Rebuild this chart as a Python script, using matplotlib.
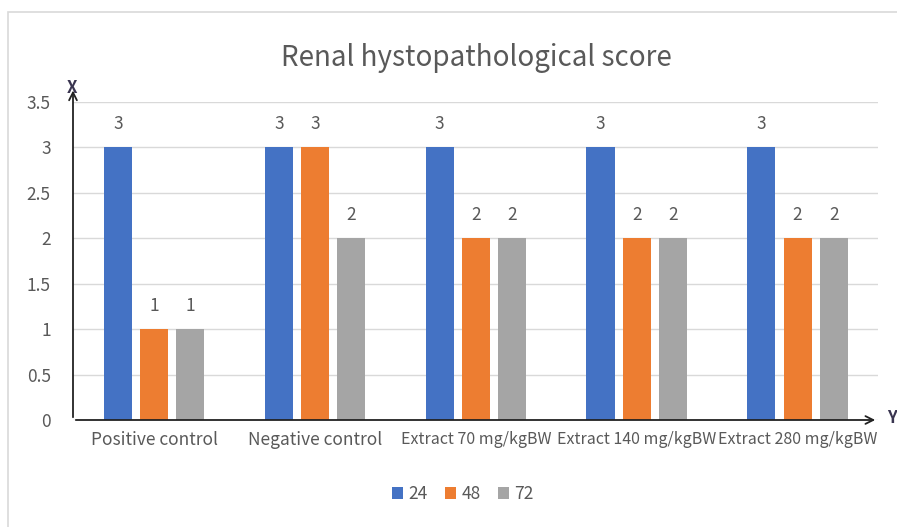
import numpy as np
import matplotlib.pyplot as plt
from matplotlib.patches import Rectangle

# data
groups = ["Positive control", "Negative control", "Extract 70 mg/kgBW",
          "Extract 140 mg/kgBW", "Extract 280 mg/kgBW"]
series_names = ["24", "48", "72"]
score_24 = [3, 3, 3, 3, 3]
score_48 = [1, 3, 2, 2, 2]
score_72 = [1, 2, 2, 2, 2]
colors = ["#4472c4", "#ed7d31", "#a5a5a5"]

plt.rcParams['font.family'] = ['Noto Sans CJK KR', 'DejaVu Sans']

W, H = 897, 527
fig = plt.figure(figsize=(W / 100, H / 100), dpi=100)

# outer chart border (cut off at right/bottom)
fig.patches.append(Rectangle((8 / W, -0.2), 1.2, 1 - 12 / H + 0.2,
                             transform=fig.transFigure, fill=False,
                             edgecolor="#d9d9d9", linewidth=1.2))

ax = fig.add_axes([73 / W, 1 - 420 / H, (878 - 73) / W, (420 - 102) / H])
x = np.arange(len(groups))
step = 0.225
width = 0.175
all_series = [score_24, score_48, score_72]
for i, (vals, name, c) in enumerate(zip(all_series, series_names, colors)):
    bars = ax.bar(x + (i - 1) * step, vals, width, color=c, label=name, zorder=3)
    for b, v in zip(bars, vals):
        ax.text(b.get_x() + b.get_width() / 2, v + 0.16, str(v), ha="center",
                va="bottom", fontsize=12.5, color="#595959")

ax.set_xlim(-0.505, 4.5)
ax.set_ylim(0, 3.5)
ax.set_yticks(np.arange(0, 3.51, 0.5))
ax.set_yticklabels(["0", "0.5", "1", "1.5", "2", "2.5", "3", "3.5"])
ax.yaxis.grid(True, color="#d9d9d9", linewidth=1, zorder=0)
ax.set_xticks(x)
ax.set_xticklabels(groups)
ax.tick_params(axis="both", length=0, colors="#595959", labelsize=12.5)
ax.tick_params(axis="x", pad=8)
ax.tick_params(axis="y", pad=16)
# the long extract labels are a bit smaller so they fit
for lab, fs in zip(ax.get_xticklabels(), [12.5, 12.5, 11.5, 11.5, 11.5]):
    lab.set_fontsize(fs)
for s in ax.spines.values():
    s.set_visible(False)

# axis arrows
ax.annotate("", xy=(0, 1.045), xytext=(0, 0), xycoords="axes fraction",
            arrowprops=dict(arrowstyle="->", color="#222222", lw=1.3,
                            mutation_scale=14), annotation_clip=False)
ax.annotate("", xy=(1.0, 0), xytext=(0, 0), xycoords="axes fraction",
            arrowprops=dict(arrowstyle="->", color="#222222", lw=1.3,
                            mutation_scale=14), annotation_clip=False)
fig.text(72 / W, 1 - 88 / H, "X", ha="center", va="center", fontsize=12,
         color="#3a3550", fontweight="bold")
fig.text(892 / W, 1 - 418 / H, "Y", ha="center", va="center", fontsize=12,
         color="#3a3550", fontweight="bold")

fig.text(476 / W, 1 - 58 / H, "Renal hystopathological score", ha="center",
         va="center", fontsize=20, color="#595959")

fig.legend(loc="center", bbox_to_anchor=(463 / W, 1 - 494 / H), ncol=3,
           frameon=False, fontsize=12.5, handlelength=0.65, handleheight=0.65,
           handletextpad=0.3, columnspacing=1.0, labelcolor="#595959")

fig.savefig("out.png", dpi=100)
